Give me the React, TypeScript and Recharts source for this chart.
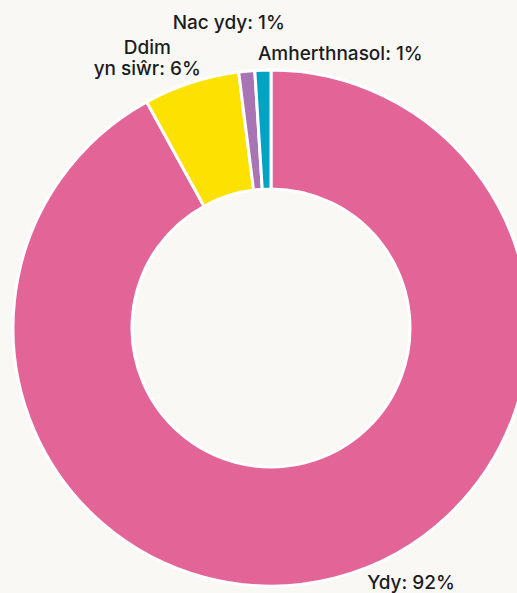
import { PieChart, Pie, Cell } from "recharts";

// ─── Data ──────────────────────────────────────────────────────────

const categories = ["Ydy", "Ddim yn siŵr", "Nac ydy", "Amherthnasol"];
const shares = [92, 6, 1, 1];
const colors = ["#e36597", "#fde100", "#a874b4", "#00a3c2"];

// label lines (the "Ddim yn siŵr" label wraps over two lines)
const labelLines = [["Ydy: 92%"], ["Ddim", "yn siŵr: 6%"], ["Nac ydy: 1%"], ["Amherthnasol: 1%"]];

const data = categories.map((name, i) => ({ name, value: shares[i] }));

// ─── Label layout ──────────────────────────────────────────────────

const RADIAN = Math.PI / 180;
const FONT = "Inter, 'Open Sans', sans-serif";

// offset from the slice's outer mid point, and anchor
const labelPlacement: { dx: number; dy: number; anchor: "start" | "middle" | "end" }[] = [
  { dx: 32, dy: 11, anchor: "start" },
  { dx: -44, dy: -29, anchor: "middle" },
  { dx: -18, dy: -42, anchor: "middle" },
  { dx: -5, dy: -10, anchor: "start" },
];

function SliceLabel(props: any) {
  const { cx, cy, midAngle, outerRadius, index } = props;
  const px = cx + outerRadius * Math.cos(-midAngle * RADIAN);
  const py = cy + outerRadius * Math.sin(-midAngle * RADIAN);
  const place = labelPlacement[index];
  const lines = labelLines[index];
  return (
    <text
      x={px + place.dx}
      y={py + place.dy}
      textAnchor={place.anchor}
      fill="#1c1c1c"
      fontSize={19}
      fontWeight={500}
      fontFamily={FONT}
    >
      {lines.map((line, i) => (
        <tspan key={i} x={px + place.dx} dy={i === 0 ? 0 : 21}>
          {line}
        </tspan>
      ))}
    </text>
  );
}

// ─── Component ─────────────────────────────────────────────────────

export default function App() {
  return (
    <div style={{ width: 517, height: 593, background: "#f9f8f5", overflow: "hidden" }}>
      <style>{`body { margin: 0; }`}</style>
      <PieChart width={517} height={593} margin={{ top: 0, right: 0, bottom: 0, left: 0 }}>
        <Pie
          data={data}
          dataKey="value"
          nameKey="name"
          cx={271}
          cy={328}
          innerRadius={139}
          outerRadius={258}
          startAngle={90}
          endAngle={-270}
          stroke="#ffffff"
          strokeWidth={3}
          label={SliceLabel}
          labelLine={false}
          isAnimationActive={false}
        >
          {data.map((d, i) => (
            <Cell key={d.name} fill={colors[i]} />
          ))}
        </Pie>
      </PieChart>
    </div>
  );
}
